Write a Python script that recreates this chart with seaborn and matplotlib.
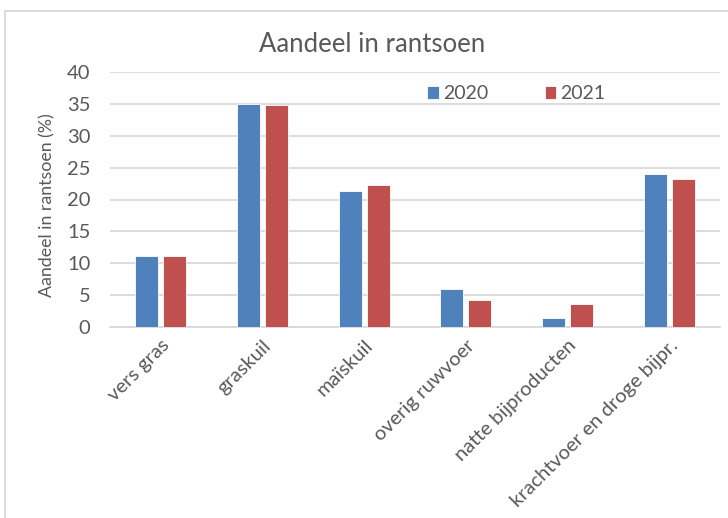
import matplotlib
matplotlib.use("Agg")
import matplotlib.pyplot as plt
import seaborn as sns
import pandas as pd
from matplotlib.patches import Rectangle

categories = ["vers gras", "graskuil", "maïskuil", "overig ruwvoer",
              "natte bijproducten", "krachtvoer en droge bijpr."]
values_2020 = [11.2, 35.0, 21.4, 6.0, 1.4, 24.0]
values_2021 = [11.1, 34.9, 22.3, 4.2, 3.6, 23.2]
years = ["2020", "2021"]
yticks = [0, 5, 10, 15, 20, 25, 30, 35, 40]

df = pd.DataFrame({
    "categorie": categories * 2,
    "jaar": [years[0]] * len(categories) + [years[1]] * len(categories),
    "waarde": values_2020 + values_2021,
})

sns.set_theme(style="white")
plt.rcParams["font.family"] = ["Lato", "DejaVu Sans"]
text_color = "#595959"

fig = plt.figure(figsize=(7.28, 5.18), dpi=100)
ax = fig.add_axes([110/728, 1 - 327/518, 610/728, 255/518])

sns.barplot(data=df, x="categorie", y="waarde", hue="jaar",
            palette=["#4F81BD", "#C0504D"], saturation=1, width=0.55, gap=0.18,
            edgecolor="white", linewidth=0.6, ax=ax, zorder=3)

ax.set_ylim(0, 40)
ax.set_xlim(-0.5, len(categories) - 0.5)
ax.set_yticks(yticks)
ax.yaxis.grid(True, color="#D9D9D9", linewidth=1.3, zorder=0)
ax.set_axisbelow(True)
for s in ["left", "right", "top"]:
    ax.spines[s].set_visible(False)
ax.spines["bottom"].set_color("#D9D9D9")
ax.spines["bottom"].set_linewidth(1.3)
ax.tick_params(axis="y", length=0, pad=14, labelsize=14.5, labelcolor=text_color)
ax.tick_params(axis="x", length=0, pad=7, labelsize=14.5, labelcolor=text_color)
ax.set_xlabel("")
ax.set_ylabel("")
for lab in ax.get_xticklabels():
    lab.set_rotation(45)
    lab.set_ha("right")
    lab.set_rotation_mode("anchor")

fig.text(47/728, 1 - 205/518, "Aandeel in rantsoen (%)", rotation=90,
         ha="center", va="center", fontsize=12.8, color=text_color)
fig.text(372/728, 1 - 45/518, "Aandeel in rantsoen", ha="center",
         va="center", fontsize=18.5, color=text_color)

leg = ax.legend(loc="center", bbox_to_anchor=(0.666, 0.914), ncol=2,
                frameon=False, fontsize=14, handlelength=0.6,
                handleheight=0.6, handletextpad=0.2, columnspacing=2.9)
for t in leg.get_texts():
    t.set_color(text_color)

fig.patches.append(Rectangle((5/728, -0.05), 1.2, 1 - 11/518 + 0.05,
                             transform=fig.transFigure, fill=False,
                             edgecolor="#D9D9D9", linewidth=1.3))

fig.savefig("out.png", dpi=100)
